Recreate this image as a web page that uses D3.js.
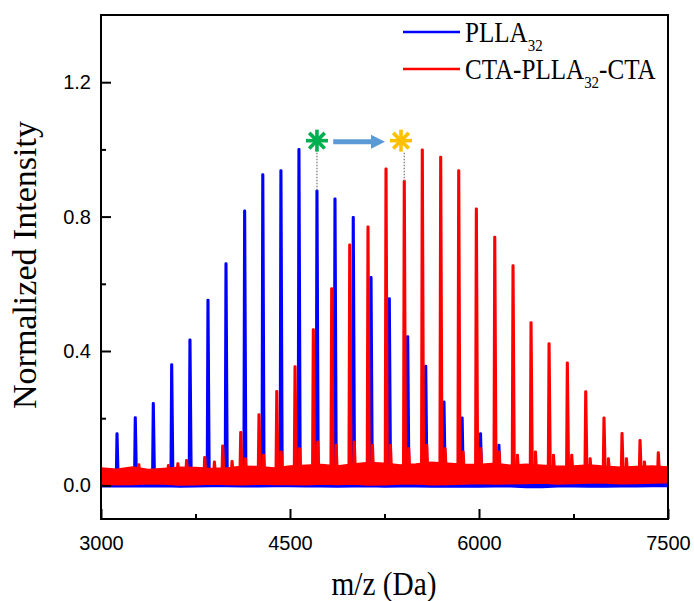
<!DOCTYPE html>
<html>
<head>
<meta charset="utf-8">
<script src="https://cdn.jsdelivr.net/npm/d3@7"></script>
<style>
  body { margin: 0; background: #fff; }
</style>
</head>
<body>
<script>
// PLLA32 main peaks (m/z, normalized intensity)
const plaMz  = [3127, 3272, 3415, 3561, 3706, 3849, 3992, 4140, 4284, 4428, 4571, 4714, 4857, 5002, 5143, 5288, 5434, 5577, 5722, 5866, 6012, 6158, 6304, 6450];
const plaInt = [0.154, 0.202, 0.244, 0.360, 0.433, 0.552, 0.660, 0.817, 0.925, 0.937, 1.000, 0.877, 0.853, 0.798, 0.619, 0.556, 0.443, 0.355, 0.249, 0.201, 0.154, 0.120, 0.080, 0.060];

// CTA-PLLA32-CTA main peaks
const ctaMz  = [3535, 3679, 3823, 3966, 4109, 4254, 4395, 4540, 4685, 4831, 4974, 5119, 5262, 5407, 5550, 5696, 5839, 5979, 6125, 6270, 6413, 6556, 6701, 6847, 6992, 7135, 7278, 7423];
const ctaInt = [0.060, 0.075, 0.084, 0.118, 0.158, 0.211, 0.280, 0.354, 0.464, 0.586, 0.716, 0.770, 0.942, 0.906, 0.999, 0.977, 0.937, 0.823, 0.739, 0.654, 0.485, 0.422, 0.365, 0.279, 0.201, 0.155, 0.134, 0.098];

// small satellite spikes in the red trace
const ctaMinorMz  = [3300, 3610, 3900, 4040, 4145, 4290, 4430, 4575, 4720, 4866, 5010, 5154, 5297, 5442, 5585, 5731, 5874, 6014, 6160, 6305, 6448, 6591, 6736, 6882, 7027, 7170, 7313];
const ctaMinorInt = [0.062, 0.065, 0.070, 0.072, 0.080, 0.090, 0.100, 0.110, 0.130, 0.120, 0.130, 0.120, 0.120, 0.110, 0.120, 0.110, 0.100, 0.110, 0.100, 0.090, 0.100, 0.090, 0.090, 0.080, 0.080, 0.080, 0.070];

// baseline noise envelopes
const noiseMz  = [3000, 3125, 3250, 3375, 3500, 3625, 3750, 3875, 4000, 4125, 4250, 4375, 4500, 4625, 4750, 4875, 5000, 5125, 5250, 5375, 5500, 5625, 5750, 5875, 6000, 6125, 6250, 6375, 6500, 6625, 6750, 6875, 7000, 7125, 7250, 7375, 7500];
const ctaLow   = [0.004, 0.002, 0.003, 0.005, 0.004, 0.001, 0.002, 0.004, 0.003, 0.002, 0.004, 0.003, 0.003, 0.002, 0.004, 0.003, 0.004, 0.001, 0.002, 0.004, 0.005, 0.002, 0.003, 0.004, 0.006, 0.004, 0.005, 0.006, 0.007, 0.004, 0.006, 0.007, 0.007, 0.005, 0.006, 0.007, 0.008];
const ctaHigh  = [0.052, 0.048, 0.055, 0.047, 0.050, 0.054, 0.053, 0.050, 0.052, 0.057, 0.056, 0.052, 0.058, 0.060, 0.062, 0.058, 0.064, 0.068, 0.066, 0.061, 0.064, 0.069, 0.066, 0.063, 0.062, 0.066, 0.060, 0.063, 0.060, 0.057, 0.058, 0.061, 0.057, 0.054, 0.056, 0.058, 0.055];
const plaLow   = [-0.004, -0.003, -0.004, -0.004, -0.003, -0.005, -0.004, -0.003, -0.003, -0.004, -0.004, -0.003, -0.003, -0.004, -0.004, -0.005, -0.004, -0.003, -0.005, -0.004, -0.004, -0.005, -0.005, -0.004, -0.005, -0.004, -0.004, -0.006, -0.006, -0.004, -0.004, -0.005, -0.005, -0.004, -0.004, -0.003, -0.003];
const plaHigh  = noiseMz.map(() => 0.02);

const xTicks = [3000, 4500, 6000, 7500];
const xMinor = [3750, 5250, 6750];
const yTicks = [0.0, 0.4, 0.8, 1.2];
const yMinor = [0.2, 0.6, 1.0];

const seriesNames = ['PLLA', 'CTA-PLLA'];
const seriesColors = ['#0000ff', '#ff0000'];

// annotation: shift of one chain from PLLA to CTA end-capped
const markMz = [4714, 5381];
const markPeakMz = [4714, 5407];
const markPeakInt = [0.877, 0.906];
const markColors = ['#00b050', '#ffc000'];

const width = 694;
const height = 601;
const margin = {top: 15, right: 26, bottom: 82, left: 101};

const serif = '"Liberation Serif", "Times New Roman", serif';
const sans = '"Liberation Sans", Arial, sans-serif';

const svg = d3.select('body').append('svg')
  .attr('width', width)
  .attr('height', height);

const x = d3.scaleLinear().domain([3000, 7500]).range([margin.left, width - margin.right]);
const y = d3.scaleLinear().domain([-0.1, 1.4]).range([height - margin.bottom, margin.top]);

const plot = svg.append('g');

const band = d3.area()
  .x(d => x(d[0]))
  .y0(d => y(d[1]))
  .y1(d => y(d[2]));

const spike = d3.line().x(d => x(d[0])).y(d => y(d[1]));

function drawSeries(mz, ints, minorMz, minorInt, low, high, base, color) {
  const g = plot.append('g');
  const env = noiseMz.map((m, i) => [m, low[i], high[i]]);
  g.append('path')
    .attr('d', band(env))
    .attr('fill', color)
    .attr('stroke', color)
    .attr('stroke-width', 1.5);

  const peaks = mz.map((m, i) => ({m: m, h: ints[i]}));
  if (minorMz) minorMz.forEach((m, i) => peaks.push({m: m, h: minorInt[i]}));

  g.selectAll('path.peak')
    .data(peaks)
    .enter().append('path')
    .attr('class', 'peak')
    .attr('d', d => spike([[d.m - 8, base], [d.m - 2, d.h], [d.m + 2, d.h], [d.m + 12, base]]))
    .attr('fill', color)
    .attr('stroke', color)
    .attr('stroke-width', 2.6)
    .attr('stroke-linejoin', 'round');
}

drawSeries(plaMz, plaInt, null, null, plaLow, plaHigh, 0.0, seriesColors[0]);
drawSeries(ctaMz, ctaInt, ctaMinorMz, ctaMinorInt, ctaLow, ctaHigh, 0.025, seriesColors[1]);

// dotted guide lines from the markers down to the peaks
const ann = svg.append('g');
markMz.forEach((m, i) => {
  ann.append('line')
    .attr('x1', x(markPeakMz[i])).attr('x2', x(markPeakMz[i]))
    .attr('y1', y(0.99)).attr('y2', y(markPeakInt[i]))
    .attr('stroke', '#888')
    .attr('stroke-width', 1.4)
    .attr('stroke-dasharray', '1.5,1.5');
});

// arrow
const ay = y(1.023);
const ax1 = x(4843), ax2 = x(5254);
ann.append('line')
  .attr('x1', ax1).attr('x2', ax2 - 12)
  .attr('y1', ay).attr('y2', ay)
  .attr('stroke', '#5b9bd5')
  .attr('stroke-width', 5);
ann.append('path')
  .attr('d', `M${ax2 - 14},${ay - 7} L${ax2},${ay} L${ax2 - 14},${ay + 7} Z`)
  .attr('fill', '#5b9bd5');

// asterisks
markMz.forEach((m, i) => {
  const cx = x(m), cy = y(1.026), r = 11;
  const g = ann.append('g').attr('transform', `translate(${cx},${cy})`);
  [0, 45, 90, 135].forEach(a => {
    const t = a * Math.PI / 180;
    g.append('line')
      .attr('x1', -r * Math.cos(t)).attr('y1', -r * Math.sin(t))
      .attr('x2', r * Math.cos(t)).attr('y2', r * Math.sin(t))
      .attr('stroke', markColors[i])
      .attr('stroke-width', 3.6);
  });
});

// axes (ticks point inward)
const xAxis = svg.append('g').attr('transform', `translate(0,${height - margin.bottom})`);
xAxis.call(d3.axisBottom(x).tickValues(xTicks).tickSize(-10).tickFormat(d3.format('d')).tickPadding(17));
xAxis.append('g').call(d3.axisBottom(x).tickValues(xMinor).tickSize(-5).tickFormat(''));

const yAxis = svg.append('g').attr('transform', `translate(${margin.left},0)`);
yAxis.call(d3.axisLeft(y).tickValues(yTicks).tickSize(-10).tickFormat(d3.format('.1f')).tickPadding(10));
yAxis.append('g').call(d3.axisLeft(y).tickValues(yMinor).tickSize(-5).tickFormat(''));

svg.selectAll('.domain').remove();
svg.selectAll('.tick line').attr('stroke', '#000').attr('stroke-width', 2);
svg.selectAll('.tick text').style('font-family', sans).attr('font-size', 20).attr('fill', '#000');

// frame
svg.append('rect')
  .attr('x', margin.left).attr('y', margin.top)
  .attr('width', width - margin.left - margin.right)
  .attr('height', height - margin.top - margin.bottom)
  .attr('fill', 'none')
  .attr('stroke', '#000')
  .attr('stroke-width', 2);

// axis titles
svg.append('text')
  .attr('transform', 'translate(36,265) rotate(-90)')
  .attr('text-anchor', 'middle')
  .style('font-family', serif)
  .attr('font-size', 34)
  .text('Normalized Intensity');

svg.append('text')
  .attr('transform', 'translate(384,595) scale(0.89,1)')
  .attr('text-anchor', 'middle')
  .style('font-family', serif)
  .attr('font-size', 33)
  .text('m/z (Da)');

// legend
const legend = svg.append('g');
const legendY = [32, 69];
legendY.forEach((ly, i) => {
  legend.append('line')
    .attr('x1', 403).attr('x2', 460)
    .attr('y1', ly).attr('y2', ly)
    .attr('stroke', seriesColors[i])
    .attr('stroke-width', 2.5);
  const t = legend.append('text')
    .attr('transform', `translate(465,${ly + 10}) scale(0.88,1)`)
    .style('font-family', serif)
    .attr('font-size', 28.5)
    .attr('fill', '#000');
  t.append('tspan').text(seriesNames[i]);
  t.append('tspan').attr('font-size', 17).attr('dy', 8.5).text('32');
  if (i === 1) t.append('tspan').attr('dy', -8.5).text('-CTA');
});
</script>
</body>
</html>
